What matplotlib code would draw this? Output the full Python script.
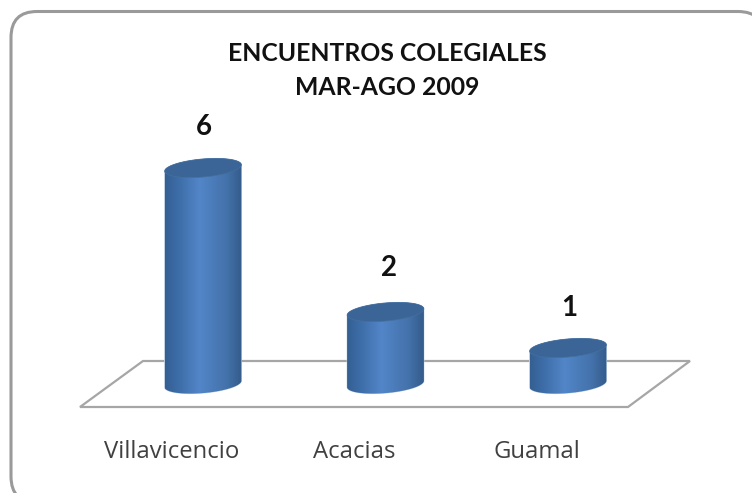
import numpy as np
import matplotlib
matplotlib.use("Agg")
import matplotlib.pyplot as plt
from matplotlib.colors import LinearSegmentedColormap
from matplotlib.patches import FancyBboxPatch, Polygon

categories = ['Villavicencio', 'Acacias', 'Guamal']
values = [6, 2, 1]
title = "ENCUENTROS COLEGIALES\nMAR-AGO 2009"

W, H = 752, 493
x0, y0 = 203, 384        # pixel position of first bar base
sx, sy = 182.5, 36       # pixels per category, per unit
rx, ry, tilt = 38.5, 9, np.radians(5)

fig = plt.figure(figsize=(W / 100, H / 100), dpi=100)
ax = fig.add_axes([0, 0, 1, 1])
ax.axis('off')

# rounded frame and floor, in pixels
over = fig.add_axes([0, 0, 1, 1], zorder=-1)
over.set_xlim(0, W)
over.set_ylim(H, 0)
over.axis('off')
over.add_patch(FancyBboxPatch((11, 11.5), 753, 491, boxstyle="round,pad=0,rounding_size=26",
                              fc='white', ec='#9a9a9a', lw=2.2))
over.add_patch(Polygon([(80, 407), (628, 407), (690, 361), (143, 361)], closed=True,
                       fc='white', ec='#a6a6a6', lw=1.6))


def ellipse_pts(cx, cy, a, b):
    # tilted ellipse in data coords, angles a..b
    t = np.linspace(a, b, 80)
    px = rx * np.cos(t) * np.cos(tilt) - ry * np.sin(t) * np.sin(tilt)
    py = rx * np.cos(t) * np.sin(tilt) + ry * np.sin(t) * np.cos(tilt)
    return np.column_stack([cx + px / sx, cy + py / sy])


cmap = LinearSegmentedColormap.from_list(
    'cyl', [(0, '#345f92'), (0.15, '#3c6ba5'), (0.45, '#5286c8'), (0.8, '#4472ab'), (1, '#345b8b')])
grad = np.linspace(0, 1, 256).reshape(1, -1)

label_dx = [0.5, 3, 1.5]
label_dy = [41, 44, 40]
for i, v in enumerate(values):
    body = np.vstack([ellipse_pts(i, v, 0, np.pi), ellipse_pts(i, 0, np.pi, 2 * np.pi)])
    ax.add_patch(Polygon(body, closed=True, fc='#3f6fab', ec='#c3d4e8', lw=0.7, zorder=2))
    im = ax.imshow(grad, cmap=cmap, extent=[i - rx / sx, i + rx / sx, -0.5, v + 0.5],
                   aspect='auto', interpolation='bilinear', zorder=3)
    im.set_clip_path(Polygon(body, closed=True, transform=ax.transData))
    top = ellipse_pts(i, v, 0, 2 * np.pi)
    ax.add_patch(Polygon(top, closed=True, fc='#3b6596', ec='#44709f', lw=0.5, zorder=4))
    ax.annotate(str(v), (i, v), xytext=(label_dx[i], label_dy[i]), textcoords='offset pixels',
                ha='center', va='center', fontsize=20, fontweight='bold', family='Lato',
                color='#111111', zorder=5)
    ax.annotate(categories[i], (i, 0), xytext=(-31, -68), textcoords='offset pixels',
                ha='center', va='center', fontsize=17.2, family='Open Sans',
                color='#404040', zorder=5)

ax.set_xlim(-x0 / sx, (W - x0) / sx)
ax.set_ylim(-(H - y0) / sy, y0 / sy)

fig.text(387 / W, 1 - 70.5 / H, title, ha='center', va='center', fontsize=17.8, fontweight='bold',
         family='Lato', color='#111111', linespacing=1.56)

fig.savefig("out.png", dpi=100)
